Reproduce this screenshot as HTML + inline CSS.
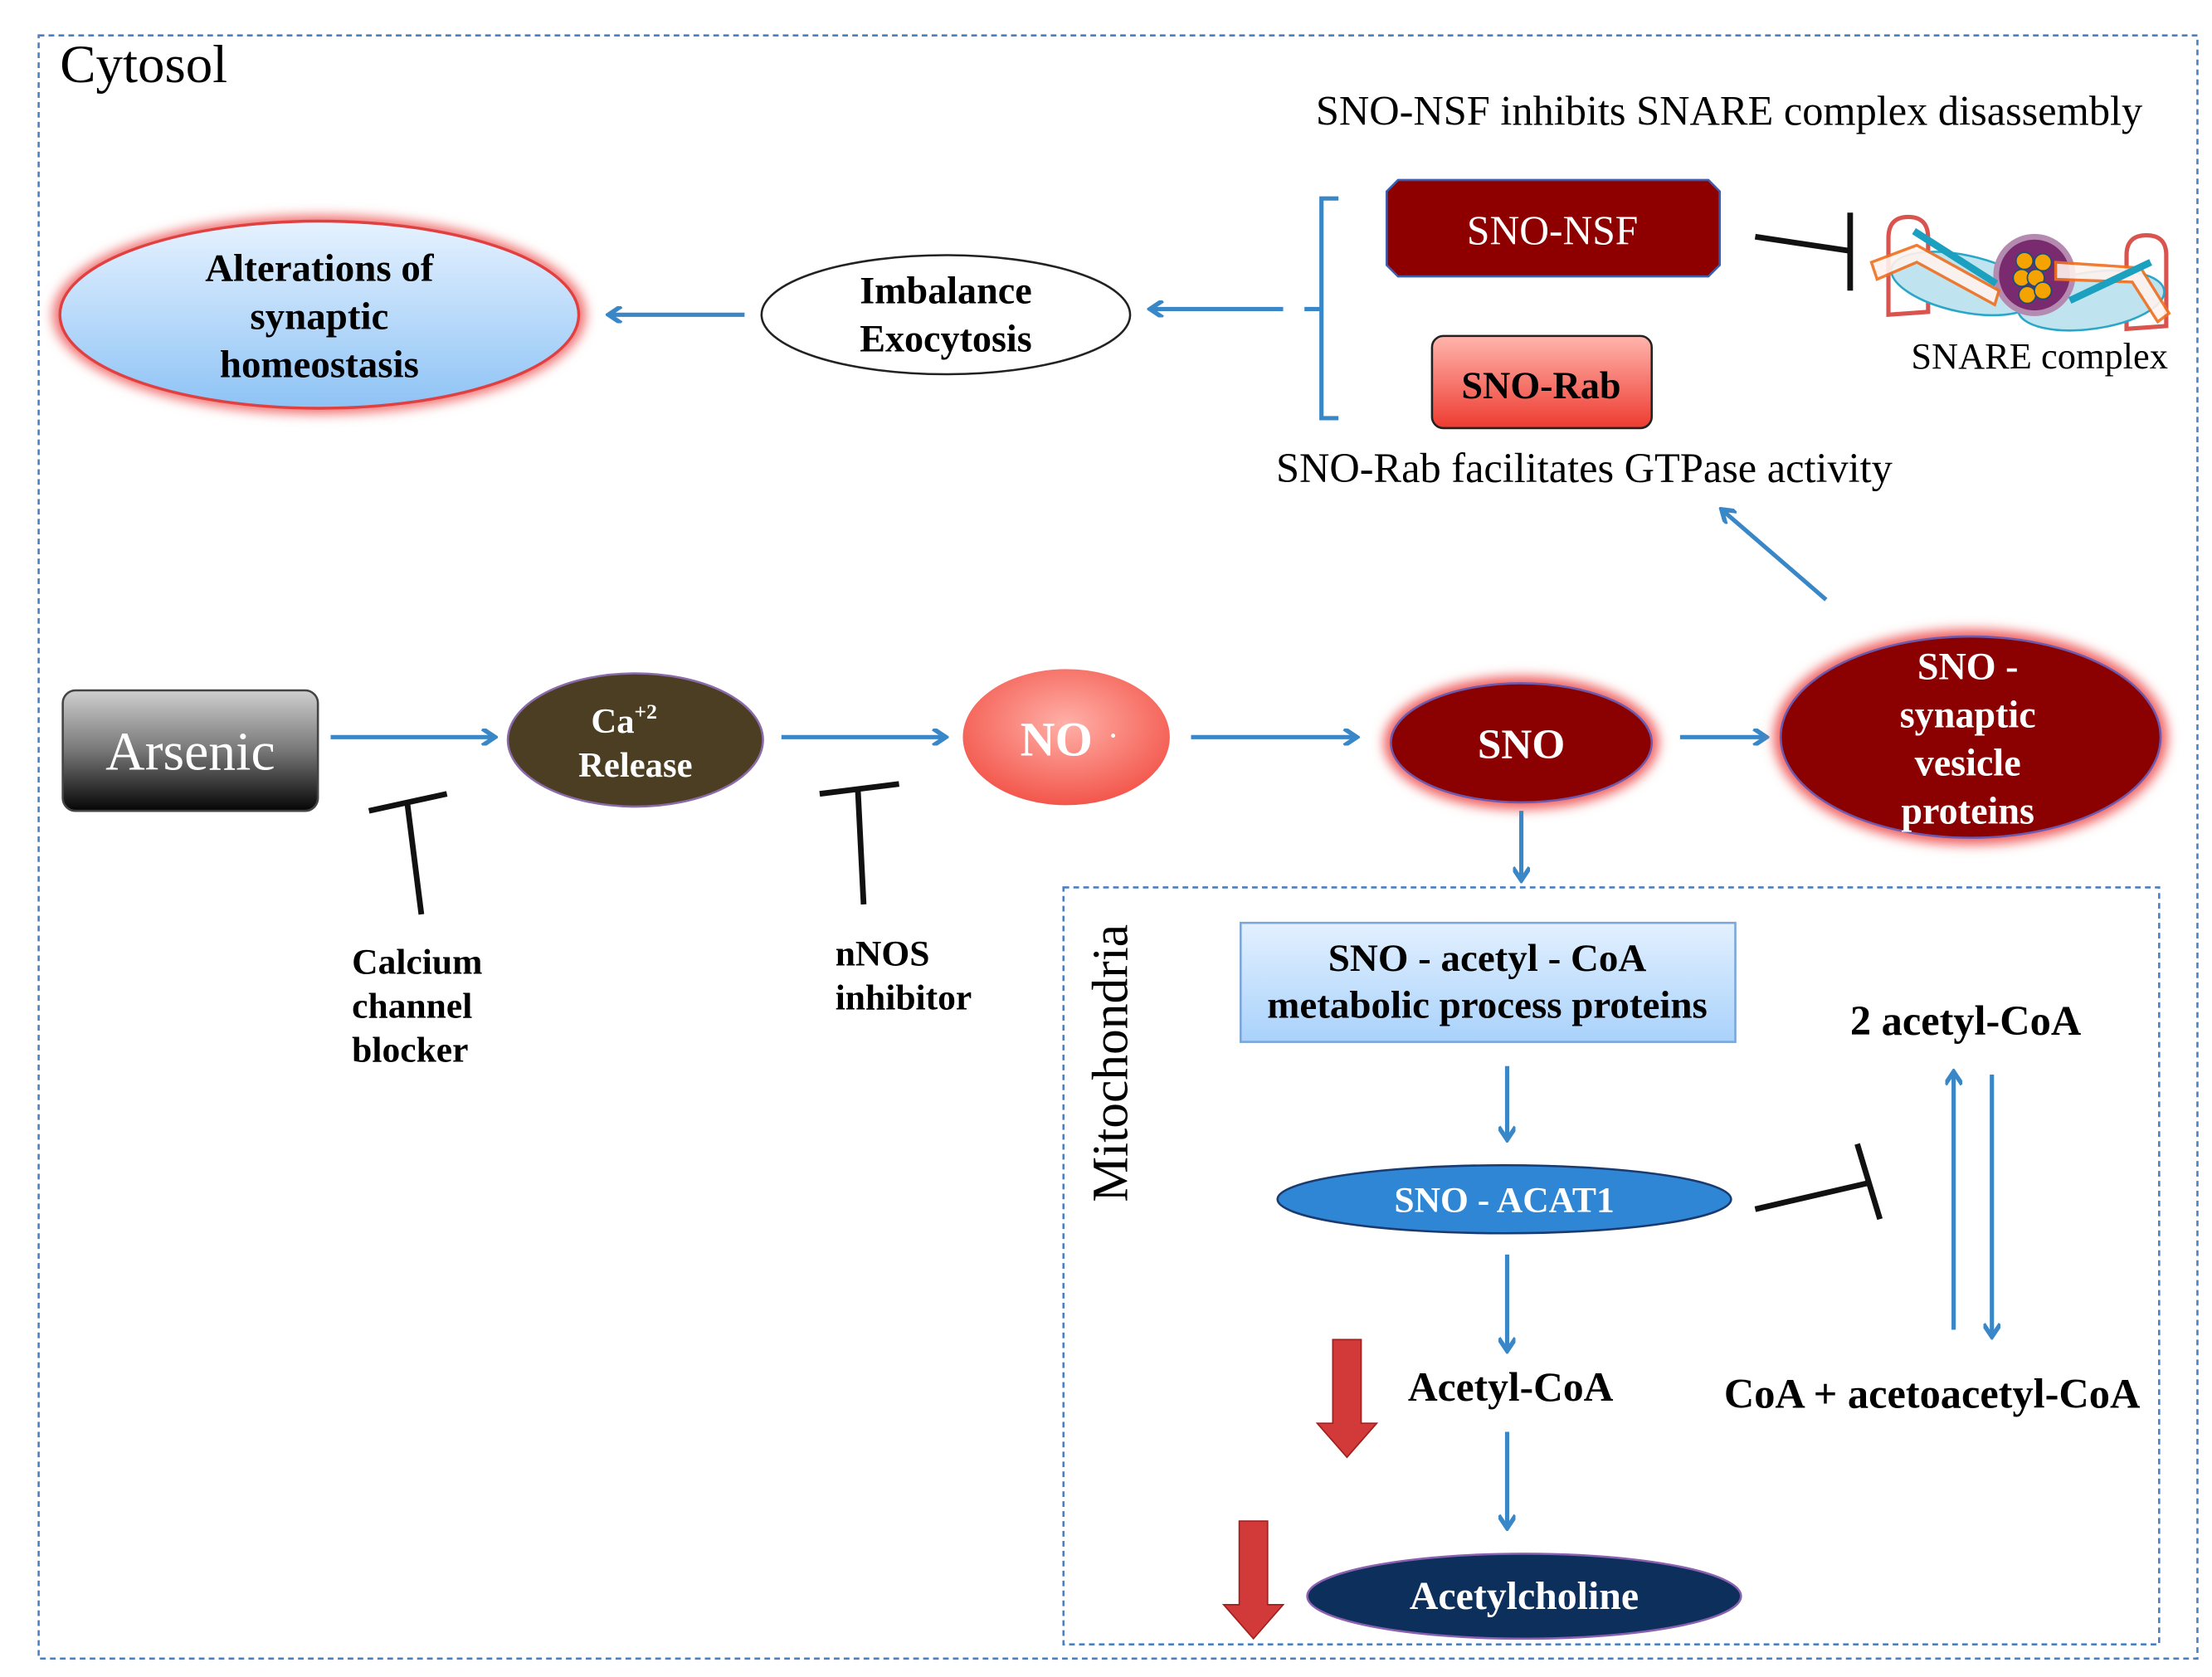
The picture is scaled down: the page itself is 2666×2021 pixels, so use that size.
<!DOCTYPE html>
<html><head><meta charset="utf-8"><style>html,body{margin:0;padding:0;background:#fff}svg{display:block}</style></head><body>
<svg width="2666" height="2021" viewBox="0 0 1560 1183" xmlns="http://www.w3.org/2000/svg" font-family="'Liberation Serif', serif">
<defs>
<marker id="ah" markerWidth="12" markerHeight="12" refX="9" refY="6" orient="auto" markerUnits="userSpaceOnUse"><path d="M1,0 L10,6 L1,12" fill="none" stroke="#3a87c8" stroke-width="3.2"/></marker>
<linearGradient id="gArs" x1="0" y1="0" x2="0" y2="1"><stop offset="0" stop-color="#cfcfcf"/><stop offset="0.5" stop-color="#777"/><stop offset="1" stop-color="#050505"/></linearGradient>
<linearGradient id="gBlue" x1="0" y1="0" x2="0" y2="1"><stop offset="0" stop-color="#e6f2ff"/><stop offset="1" stop-color="#8ec3f5"/></linearGradient>
<linearGradient id="gRab" x1="0" y1="0" x2="0" y2="1"><stop offset="0" stop-color="#ffb5ad"/><stop offset="1" stop-color="#ee3b30"/></linearGradient>
<radialGradient id="gNO" cx="0.5" cy="0.4" r="0.6"><stop offset="0" stop-color="#ffb0a8"/><stop offset="1" stop-color="#f3564b"/></radialGradient>
<linearGradient id="gBox" x1="0" y1="0" x2="0" y2="1"><stop offset="0" stop-color="#e3f0ff"/><stop offset="1" stop-color="#a9d2fb"/></linearGradient>
<filter id="glow" x="-20%" y="-20%" width="140%" height="140%"><feGaussianBlur stdDeviation="4"/></filter>
</defs>
<rect x="27" y="25" width="1523" height="1145" fill="none" stroke="#4a7fc0" stroke-width="1.5" stroke-dasharray="4,3"/>
<text x="42" y="58" font-size="38">Cytosol</text>
<text x="928" y="88" font-size="29.5">SNO-NSF inhibits SNARE complex disassembly</text>
<!-- SNO-NSF -->
<path d="M986,127 H1205 L1213,135 V187 L1205,195 H986 L978,187 V135 Z" fill="#8e0000" stroke="#3a5fb0" stroke-width="1.5"/>
<text x="1095" y="172" font-size="29" fill="#fff" text-anchor="middle">SNO-NSF</text>
<rect x="1010" y="237" width="155" height="65" rx="8" fill="url(#gRab)" stroke="#222" stroke-width="1.5"/>
<text x="1087" y="281" font-size="27" font-weight="bold" text-anchor="middle">SNO-Rab</text>
<text x="900" y="340" font-size="29.5">SNO-Rab facilitates GTPase activity</text>
<path d="M944,140 H932 V295 H944 M932,218 H920" fill="none" stroke="#3a87c8" stroke-width="3"/>
<line x1="905" y1="218" x2="812" y2="218" stroke="#3a87c8" stroke-width="3" marker-end="url(#ah)"/>
<ellipse cx="667" cy="222" rx="130" ry="42" fill="#fff" stroke="#222" stroke-width="1.5"/>
<text x="667" y="214" font-size="27" font-weight="bold" text-anchor="middle">Imbalance</text>
<text x="667" y="248" font-size="27" font-weight="bold" text-anchor="middle">Exocytosis</text>
<line x1="525" y1="222" x2="430" y2="222" stroke="#3a87c8" stroke-width="3" marker-end="url(#ah)"/>
<ellipse cx="225" cy="222" rx="188" ry="70" fill="#f07070" filter="url(#glow)"/>
<ellipse cx="225" cy="222" rx="183" ry="66" fill="url(#gBlue)" stroke="#e04040" stroke-width="2"/>
<text x="225" y="198" font-size="27.5" font-weight="bold" text-anchor="middle">Alterations of</text>
<text x="225" y="232" font-size="27.5" font-weight="bold" text-anchor="middle">synaptic</text>
<text x="225" y="266" font-size="27.5" font-weight="bold" text-anchor="middle">homeostasis</text>
<!-- T to SNARE -->
<path d="M1238,167 L1305,177 M1305,150 V205" stroke="#111" stroke-width="4" fill="none"/>
<!-- SNARE icon -->
<g stroke-width="3">
<path d="M1332,222 V168 Q1332,153 1346,153 Q1360,153 1360,168 V220 Z" fill="none" stroke="#d9534f"/>
<path d="M1500,232 V180 Q1500,166 1514,166 Q1528,166 1528,180 V230 Z" fill="none" stroke="#d9534f"/>
<ellipse cx="1385" cy="200" rx="52" ry="20" fill="#bfe4f0" stroke="#2aa7c8" stroke-width="1.5" transform="rotate(12 1385 200)"/>
<ellipse cx="1475" cy="212" rx="52" ry="20" fill="#bfe4f0" stroke="#2aa7c8" stroke-width="1.5" transform="rotate(-8 1475 212)"/>
<circle cx="1435" cy="194" r="27" fill="#7a2a6e" stroke="#b58ab0" stroke-width="4"/>
<g fill="#f5a300" stroke="#1a4d7a" stroke-width="1"><circle cx="1428" cy="184" r="6"/><circle cx="1441" cy="185" r="6"/><circle cx="1426" cy="196" r="6"/><circle cx="1436" cy="196" r="6"/><circle cx="1430" cy="208" r="6"/><circle cx="1441" cy="205" r="6"/></g>
<path d="M1320,210 L1352,198 L1410,230 L1407,240 L1352,210 L1324,222 Z" fill="#fff3ee" stroke="#f07020" stroke-width="2" opacity="0.9" transform="translate(0,-25)"/>
<path d="M1450,200 L1510,204 L1530,236 L1522,242 L1504,214 L1450,212 Z" fill="#fff3ee" stroke="#f07020" stroke-width="2" opacity="0.9" transform="translate(0,-15)"/>
<line x1="1350" y1="163" x2="1408" y2="200" stroke="#1ca0c0" stroke-width="5"/>
<line x1="1460" y1="212" x2="1517" y2="185" stroke="#1ca0c0" stroke-width="5"/>
</g>
<text x="1348" y="260" font-size="26">SNARE complex</text>
<line x1="1288" y1="423" x2="1215" y2="360" stroke="#3a87c8" stroke-width="3" marker-end="url(#ah)"/>
<!-- middle row -->
<rect x="44" y="487" width="180" height="85" rx="9" fill="url(#gArs)" stroke="#444" stroke-width="1.5"/>
<text x="134" y="543" font-size="38.5" fill="#fff" text-anchor="middle">Arsenic</text>
<line x1="233" y1="520" x2="348" y2="520" stroke="#3a87c8" stroke-width="3" marker-end="url(#ah)"/>
<ellipse cx="448" cy="522" rx="90" ry="47" fill="#4b3e22" stroke="#8a6aa8" stroke-width="1.5"/>
<text x="440" y="517" font-size="25" font-weight="bold" fill="#fff" text-anchor="middle">Ca<tspan font-size="15" dy="-10">+2</tspan></text>
<text x="448" y="548" font-size="25" font-weight="bold" fill="#fff" text-anchor="middle">Release</text>
<path d="M297,645 L287,566 M260,572 L315,560" stroke="#111" stroke-width="4" fill="none"/>
<text font-size="25.5" font-weight="bold"><tspan x="248" y="687">Calcium</tspan><tspan x="248" y="718">channel</tspan><tspan x="248" y="749">blocker</tspan></text>
<line x1="551" y1="520" x2="666" y2="520" stroke="#3a87c8" stroke-width="3" marker-end="url(#ah)"/>
<ellipse cx="752" cy="520" rx="73" ry="48" fill="url(#gNO)"/>
<text x="745" y="533" font-size="34" font-weight="bold" fill="#fff" text-anchor="middle">NO</text><text x="781" y="527" font-size="24" fill="#fff">·</text>
<path d="M609,638 L605,558 M578,560 L634,553" stroke="#111" stroke-width="4" fill="none"/>
<text font-size="25.5" font-weight="bold"><tspan x="589" y="681">nNOS</tspan><tspan x="589" y="712">inhibitor</tspan></text>
<line x1="840" y1="520" x2="956" y2="520" stroke="#3a87c8" stroke-width="3" marker-end="url(#ah)"/>
<ellipse cx="1073" cy="524" rx="97" ry="47" fill="#f06060" filter="url(#glow)"/>
<ellipse cx="1073" cy="524" rx="92" ry="42" fill="#8b0000" stroke="#6a5ab0" stroke-width="1.5"/>
<text x="1073" y="535" font-size="30" font-weight="bold" fill="#fff" text-anchor="middle">SNO</text>
<line x1="1185" y1="520" x2="1245" y2="520" stroke="#3a87c8" stroke-width="3" marker-end="url(#ah)"/>
<ellipse cx="1390" cy="520" rx="139" ry="76" fill="#f06060" filter="url(#glow)"/>
<ellipse cx="1390" cy="520" rx="134" ry="71" fill="#8b0000" stroke="#6a5ab0" stroke-width="1.5"/>
<text font-size="27" font-weight="bold" fill="#fff" text-anchor="middle"><tspan x="1388" y="479">SNO -</tspan><tspan x="1388" y="513">synaptic</tspan><tspan x="1388" y="547">vesicle</tspan><tspan x="1388" y="581">proteins</tspan></text>
<line x1="1073" y1="572" x2="1073" y2="620" stroke="#3a87c8" stroke-width="3" marker-end="url(#ah)"/>
<!-- mitochondria -->
<rect x="750" y="626" width="773" height="534" fill="none" stroke="#4a7fc0" stroke-width="1.5" stroke-dasharray="4,3"/>
<text transform="translate(795,750) rotate(-90)" font-size="36" text-anchor="middle">Mitochondria</text>
<rect x="875" y="651" width="349" height="84" fill="url(#gBox)" stroke="#7aa6d8" stroke-width="1.5"/>
<text x="1049" y="685" font-size="27.5" font-weight="bold" text-anchor="middle">SNO - acetyl - CoA</text>
<text x="1049" y="718" font-size="27.5" font-weight="bold" text-anchor="middle">metabolic process proteins</text>
<line x1="1063" y1="752" x2="1063" y2="803" stroke="#3a87c8" stroke-width="3" marker-end="url(#ah)"/>
<ellipse cx="1061" cy="846" rx="160" ry="24" fill="#2e86d4" stroke="#1a3a70" stroke-width="1.5"/>
<text x="1061" y="855" font-size="25.5" font-weight="bold" fill="#fff" text-anchor="middle">SNO - ACAT1</text>
<path d="M1238,853 L1320,834 M1310,807 L1326,860" stroke="#111" stroke-width="4" fill="none"/>
<text x="1305" y="730" font-size="29.5" font-weight="bold">2 acetyl-CoA</text>
<line x1="1378" y1="938" x2="1378" y2="757" stroke="#3a87c8" stroke-width="3" marker-end="url(#ah)"/>
<line x1="1405" y1="758" x2="1405" y2="942" stroke="#3a87c8" stroke-width="3" marker-end="url(#ah)"/>
<text x="1216" y="993" font-size="29.5" font-weight="bold">CoA + acetoacetyl-CoA</text>
<line x1="1063" y1="885" x2="1063" y2="952" stroke="#3a87c8" stroke-width="3" marker-end="url(#ah)"/>
<path d="M940,945 H960 V1004 H971 L950,1028 L929,1004 H940 Z" fill="#d23a3a" stroke="#a02020" stroke-width="1"/>
<text x="993" y="988" font-size="29" font-weight="bold">Acetyl-CoA</text>
<line x1="1063" y1="1010" x2="1063" y2="1077" stroke="#3a87c8" stroke-width="3" marker-end="url(#ah)"/>
<path d="M874,1073 H894 V1132 H905 L884,1156 L863,1132 H874 Z" fill="#d23a3a" stroke="#a02020" stroke-width="1"/>
<ellipse cx="1075" cy="1126" rx="153" ry="30" fill="#0d2f5c" stroke="#8a60b0" stroke-width="1.5"/>
<text x="1075" y="1135" font-size="28" font-weight="bold" fill="#fff" text-anchor="middle">Acetylcholine</text>
</svg>
</body></html>
